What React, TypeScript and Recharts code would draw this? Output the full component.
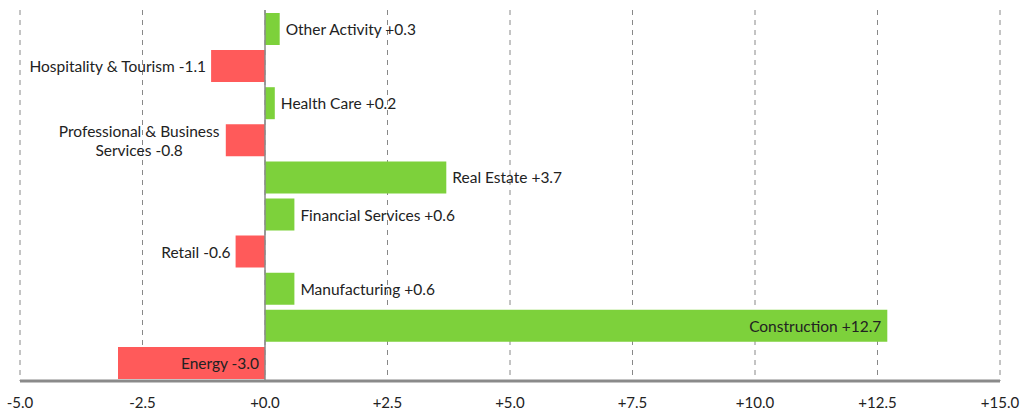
import React from 'react';
import {
  BarChart,
  Bar,
  XAxis,
  YAxis,
  CartesianGrid,
  ReferenceLine,
  LabelList,
  Cell,
} from 'recharts';

// categories top to bottom
const sectors = [
  'Other Activity',
  'Hospitality & Tourism',
  'Health Care',
  'Professional & Business Services',
  'Real Estate',
  'Financial Services',
  'Retail',
  'Manufacturing',
  'Construction',
  'Energy',
];
const changes = [0.3, -1.1, 0.2, -0.8, 3.7, 0.6, -0.6, 0.6, 12.7, -3.0];
const insideLabels = ['Construction', 'Energy'];
const xTicks = [-5, -2.5, 0, 2.5, 5, 7.5, 10, 12.5, 15];

const POS = '#7dd13b';
const NEG = '#ff5a5a';
const FONT = 'Lato, "Open Sans", sans-serif';

const data = sectors.map((name, i) => ({ name, value: changes[i] }));

const fmt = (v: number) => (v >= 0 ? '+' : '') + v.toFixed(1);

// split long labels onto two lines
const wrap = (text: string, maxChars: number) => {
  if (text.length <= 30) return [text];
  const words = text.split(' ');
  const lines: string[] = [];
  let cur = '';
  words.forEach((w) => {
    const next = cur ? cur + ' ' + w : w;
    if (next.length > maxChars && cur) {
      lines.push(cur);
      cur = w;
    } else {
      cur = next;
    }
  });
  if (cur) lines.push(cur);
  return lines;
};

const charW = 7.1;

const BarLabel = (props: any) => {
  const { x, y, width, height, index } = props;
  const v = changes[index];
  const name = sectors[index];
  const text = `${name} ${fmt(v)}`;
  const left = Math.min(x, x + width);
  const right = Math.max(x, x + width);
  const cy = y + height / 2;
  const inside = insideLabels.includes(name);
  const lines = wrap(text, 24);
  const lh = 19;
  const startY = cy - ((lines.length - 1) * lh) / 2;

  let tx: number;
  let anchor: 'start' | 'end' | 'middle';
  if (v >= 0) {
    if (inside) {
      tx = right - 6;
      anchor = 'end';
    } else {
      tx = right + 6;
      anchor = 'start';
    }
  } else if (inside) {
    tx = right - 6;
    anchor = 'end';
  } else {
    tx = left - 5;
    anchor = 'end';
  }
  if (lines.length > 1) {
    const maxW = Math.max(...lines.map((l) => l.length)) * charW;
    tx = anchor === 'end' ? tx - maxW / 2 : tx + maxW / 2;
    anchor = 'middle';
  }
  return (
    <text
      x={tx}
      y={startY}
      textAnchor={anchor}
      dominantBaseline="central"
      fontFamily={FONT}
      fontSize={15.5}
      fill="#222"
    >
      {lines.map((l, i) => (
        <tspan key={i} x={tx} dy={i === 0 ? 0 : lh}>
          {l}
        </tspan>
      ))}
    </text>
  );
};

export default function App() {
  return (
    <div style={{ position: 'absolute', left: 0, top: 0, background: '#fff' }}>
      <BarChart
        width={1024}
        height={413}
        data={data}
        layout="vertical"
        margin={{ top: 10, right: 24, bottom: 0, left: 20 }}
        barSize={32}
      >
        <CartesianGrid horizontal={false} vertical stroke="#888" strokeDasharray="5 5" />
        <XAxis
          type="number"
          domain={[-5, 15]}
          ticks={xTicks}
          tickFormatter={fmt}
          axisLine={{ stroke: '#8a8a8a', strokeWidth: 3 }}
          tickLine={false}
          tickSize={14}
          tick={{ fontFamily: FONT, fontSize: 15, fill: '#222' }}
          height={32}
          interval={0}
        />
        <YAxis type="category" dataKey="name" hide />
        <ReferenceLine x={0} stroke="#8a8a8a" strokeWidth={1.5} />
        <Bar dataKey="value" isAnimationActive={false}>
          {data.map((d, i) => (
            <Cell key={i} fill={d.value >= 0 ? POS : NEG} />
          ))}
          <LabelList dataKey="value" content={BarLabel} />
        </Bar>
      </BarChart>
    </div>
  );
}
